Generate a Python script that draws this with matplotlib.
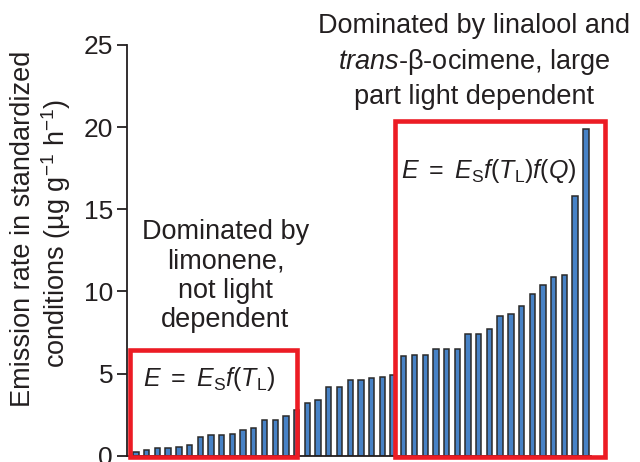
import numpy as np
import matplotlib.pyplot as plt
from matplotlib.patches import Rectangle

plt.rcParams['font.family'] = ['Liberation Sans', 'DejaVu Sans']
plt.rcParams['mathtext.fontset'] = 'custom'
plt.rcParams['mathtext.rm'] = 'Liberation Sans'
plt.rcParams['mathtext.it'] = 'Liberation Sans:italic'
plt.rcParams['mathtext.sf'] = 'Liberation Sans'

# emission rates, sorted (ug g-1 h-1)
rates = [0.2, 0.32, 0.44, 0.44, 0.53, 0.65, 1.16, 1.24, 1.24, 1.34, 1.57, 1.66,
         2.17, 2.17, 2.39, 2.78,
         3.19, 3.39, 4.19, 4.19, 4.6, 4.6, 4.7, 4.8, 4.9,
         6.06, 6.16, 6.16, 6.47, 6.47, 6.47, 7.4, 7.4, 7.7, 8.51, 8.63, 9.14,
         9.87, 10.4, 10.88, 10.98, 15.79, 19.9]
yticks = [0, 5, 10, 15, 20, 25]

txt = '#231f20'
red = '#ec1c24'
fs = 19.5

fig = plt.figure(figsize=(6.4, 4.62), dpi=100)
ax = fig.add_axes([127/640, 1-455.7/462, (591-127)/640, (455.7-45)/462])

x = np.arange(len(rates))
ax.bar(x, rates, width=0.5, color='#4782c6', edgecolor='#2a2a2a', linewidth=1.1, zorder=2)

ax.set_xlim(-0.84, 42.48)
ax.set_ylim(0, 25)
ax.set_yticks(yticks)
ax.set_xticks([])
ax.spines['top'].set_visible(False)
ax.spines['right'].set_visible(False)
for s in ['left', 'bottom']:
    ax.spines[s].set_linewidth(1.3)
    ax.spines[s].set_color('#231f20')
ax.tick_params(axis='y', length=7, width=1.3, labelsize=19, colors=txt, pad=3)

# two-line y label
fig.text(23/640, 1-229/462, 'Emission rate in standardized', rotation=90,
         ha='center', va='center', fontsize=fs, color=txt)
fig.text(56/640, 1-233/462, 'conditions (µg g$^{-1}$ h$^{-1}$)', rotation=90,
         ha='center', va='center', fontsize=fs, color=txt)

# red boxes
ax.add_patch(Rectangle((-0.59, -0.06), 15.62, 6.5, fill=False, edgecolor=red,
                       linewidth=3.3, clip_on=False, zorder=3))
ax.add_patch(Rectangle((24.18, -0.06), 19.6, 20.41, fill=False, edgecolor=red,
                       linewidth=3.3, clip_on=False, zorder=3))

fig.text(474.5/640, 1-61.5/462, 'Dominated by linalool and\n$\\it{trans}$-β-ocimene, large\npart light dependent',
         ha='center', va='center', fontsize=fs, color=txt, linespacing=1.34)
fig.text(225.5/640, 1-276/462, 'Dominated by\nlimonene,\nnot light\ndependent',
         ha='center', va='center', fontsize=fs, color=txt, linespacing=1.17)
fig.text(209/640, 1-379/462, r'$E\ =\ E_{\mathrm{S}}f(T_{\mathrm{L}})$',
         ha='center', va='center', fontsize=18, color=txt)
fig.text(489/640, 1-171/462, r'$E\ =\ E_{\mathrm{S}}f(T_{\mathrm{L}})f(Q)$',
         ha='center', va='center', fontsize=18, color=txt)

fig.savefig('out.png', dpi=100)
